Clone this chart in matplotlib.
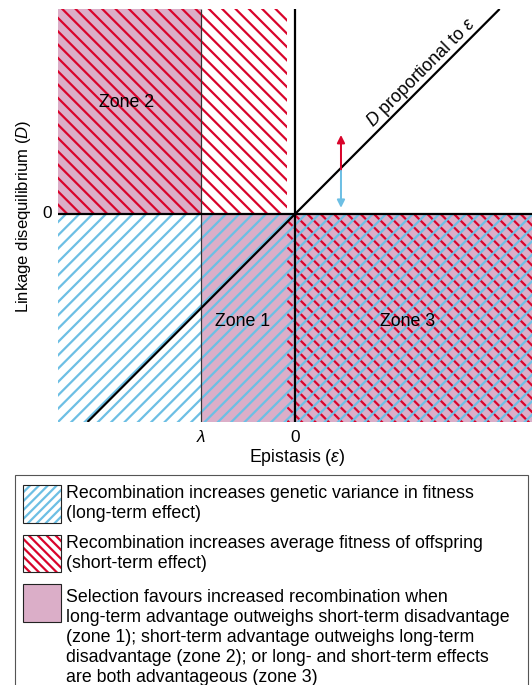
import matplotlib
matplotlib.use("Agg")
import matplotlib.pyplot as plt
from matplotlib.patches import Rectangle

# ---- data / geometry of the schematic (data units) ----
X_RANGE = [-1.0, 1.0]
Y_RANGE = [-1.007, 0.993]
LAMBDA = -0.397          # position of lambda on epistasis axis
RED_SPLIT = -0.034       # boundary of short-term (red) region
SLOPE = 1.15             # D proportional to epsilon
ARROW_X = 0.194
ARROW_TOP = 0.383
ARROW_BOTTOM = 0.03

zone_labels = ["Zone 2", "Zone 1", "Zone 3"]
zone_pos = [(-0.71, 0.54), (-0.22, -0.52), (0.477, -0.52)]

legend_lines = [
    ["Recombination increases genetic variance in fitness",
     "(long-term effect)"],
    ["Recombination increases average fitness of offspring",
     "(short-term effect)"],
    ["Selection favours increased recombination when",
     "long-term advantage outweighs short-term disadvantage",
     "(zone 1); short-term advantage outweighs long-term",
     "disadvantage (zone 2); or long- and short-term effects",
     "are both advantageous (zone 3)"],
]

PINK = "#dbaec8"
RED = "#d9042b"
BLUE = "#6dbfe4"

W, H, DPI = 532, 685, 80
plt.rcParams["font.family"] = ["Liberation Sans", "DejaVu Sans"]
plt.rcParams["mathtext.fontset"] = "custom"
plt.rcParams["mathtext.rm"] = "Liberation Sans"
plt.rcParams["mathtext.it"] = "Liberation Sans:italic"
plt.rcParams["hatch.linewidth"] = 2.0

fig = plt.figure(figsize=(W / DPI, H / DPI), dpi=DPI)


def fx(px):
    return px / W


def fy(py):
    return 1 - py / H


ax = fig.add_axes([fx(58), fy(422), (532 - 58) / W, (422 - 9) / H])
ax.set_xlim(X_RANGE)
ax.set_ylim(Y_RANGE)
ax.axis("off")

x0, x1 = X_RANGE
y0, y1 = Y_RANGE

# pink (selection favours recombination)
ax.add_patch(Rectangle((x0, 0), LAMBDA - x0, y1, facecolor=PINK, edgecolor="none", zorder=1))
ax.add_patch(Rectangle((LAMBDA, y0), x1 - LAMBDA, -y0, facecolor=PINK, edgecolor="none", zorder=1))
# red hatch (short-term)
ax.add_patch(Rectangle((x0, 0), RED_SPLIT - x0, y1, facecolor="none", edgecolor=RED,
                       linewidth=0, hatch="\\\\", zorder=2))
ax.add_patch(Rectangle((RED_SPLIT, y0), x1 - RED_SPLIT, -y0, facecolor="none", edgecolor=RED,
                       linewidth=0, hatch="\\\\", zorder=2))
# blue hatch (long-term)
ax.add_patch(Rectangle((x0, y0), x1 - x0, -y0, facecolor="none", edgecolor=BLUE,
                       linewidth=0, hatch="//", zorder=3))

# lines
ax.plot([LAMBDA, LAMBDA], [y0, y1], color="#333333", lw=1.1, zorder=4, solid_capstyle="butt")
ax.plot([0, 0], [y0, y1], color="black", lw=2.0, zorder=5, solid_capstyle="butt")
ax.plot([x0, x1], [0, 0], color="black", lw=2.0, zorder=5, solid_capstyle="butt")
ax.plot([y0 / SLOPE, y1 / SLOPE], [y0, y1], color="black", lw=2.0, zorder=5,
        solid_capstyle="butt")

# arrows
y_mid = SLOPE * ARROW_X * 0.94
ax.annotate("", xy=(ARROW_X, ARROW_TOP), xytext=(ARROW_X, y_mid),
            arrowprops=dict(arrowstyle="-|>", color=RED, lw=1.8, mutation_scale=14,
                            shrinkA=0, shrinkB=0), zorder=6)
ax.annotate("", xy=(ARROW_X, ARROW_BOTTOM), xytext=(ARROW_X, y_mid),
            arrowprops=dict(arrowstyle="-|>", color=BLUE, lw=1.8, mutation_scale=14,
                            shrinkA=0, shrinkB=0), zorder=6)

for lab, (zx, zy) in zip(zone_labels, zone_pos):
    ax.text(zx, zy, lab, fontsize=16, ha="center", va="center", color="black", zorder=7)

ax.text(0.532, 0.683, r"$\mathit{D}$ proportional to $\varepsilon$", fontsize=16, rotation=45,
        ha="center", va="center", color="black", zorder=7)

# tick labels and axis labels (figure pixels)
fig.text(fx(47), fy(214), "0", fontsize=15.5, ha="center", va="center")
fig.text(fx(201), fy(437), r"$\lambda$", fontsize=15.5, ha="center", va="center")
fig.text(fx(295), fy(437), "0", fontsize=15.5, ha="center", va="center")
fig.text(fx(297), fy(457), r"Epistasis ($\varepsilon$)", fontsize=16, ha="center", va="center")
fig.text(fx(24), fy(216), r"Linkage disequilibrium ($\mathit{D}$)", fontsize=15,
         rotation=90, ha="center", va="center")

# legend box
fig.add_artist(Rectangle((fx(15), fy(700)), (528 - 15) / W, (700 - 475) / H,
                         transform=fig.transFigure, facecolor="none", edgecolor="#555555",
                         lw=1.0))
swatches = [(485, 38, BLUE, "///", None), (535, 37, RED, "\\\\\\", None),
            (584, 38, None, None, PINK)]
for (top, h, col, hatch, face) in swatches:
    if face is not None:
        fig.add_artist(Rectangle((fx(23), fy(top + h)), 38 / W, h / H, transform=fig.transFigure,
                                 facecolor=face, edgecolor="#222222", lw=1.0))
    else:
        fig.add_artist(Rectangle((fx(23), fy(top + h)), 38 / W, h / H, transform=fig.transFigure,
                                 facecolor="white", edgecolor=col, lw=0, hatch=hatch))
        fig.add_artist(Rectangle((fx(23), fy(top + h)), 38 / W, h / H, transform=fig.transFigure,
                                 facecolor="none", edgecolor="#222222", lw=1.0))

line_y0 = [493, 543, 597]
for block, ystart in zip(legend_lines, line_y0):
    for i, line in enumerate(block):
        fig.text(fx(66), fy(ystart + 20 * i), line, fontsize=16, ha="left", va="center")

fig.savefig("out.png", dpi=DPI)
